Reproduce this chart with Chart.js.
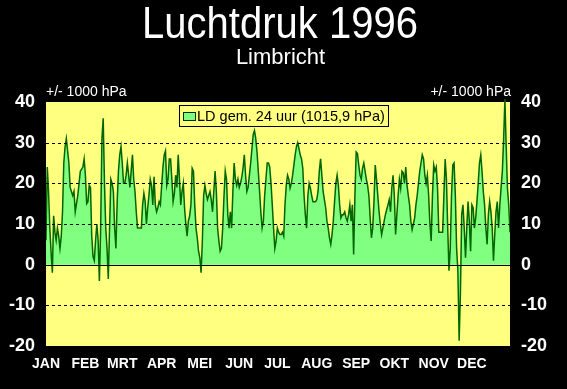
<!DOCTYPE html>
<html>
<head>
<meta charset="utf-8">
<script src="https://cdn.jsdelivr.net/npm/chart.js@4/dist/chart.umd.min.js"></script>
<style>
  html, body { margin: 0; padding: 0; background: #000; }
  #wrap { width: 567px; height: 389px; }
</style>
</head>
<body>
<div id="wrap"><canvas id="grafico" width="567" height="389"></canvas></div>
<script>
// luchtdruk per dag, afwijking van 1000 hPa
const jan = [6, 24, 18, 9, 3, -2, 12, 8, 6, 9, 7, 4, 7, 13, 25, 29, 31, 28, 25, 19, 18, 17, 18, 13, 15, 17, 20, 23, 23.5, 24, 26];
const feb = [22, 15, 15.5, 19.5, 19, 7, 2, 1, 6, 10, 6, -4, 9, 31, 36, 20, 9, 4, -3.5, 9, 21, 20, 18, 9, 4, 15.5, 23, 27, 29];
const mrt = [25, 20, 20, 22, 25, 22, 19, 23, 27, 21, 18, 13, 9, 9, 9, 9, 14.7, 17.5, 15.5, 10, 14, 17, 21, 19.5, 14.7, 21.6, 14.7, 13, 14, 15.5, 14.7];
const apr = [19.5, 24, 27, 28, 19.5, 21, 26, 26, 21, 15.5, 17.5, 22, 19, 27, 21, 14.7, 18, 20, 14, 10, 7, 10.7, 12, 14.7, 23.7, 23, 14.7, 9, 6.6, 3.3];
const mei = [1.7, -2, 5.8, 17, 19.5, 17.5, 16, 17, 18, 16, 13, 18, 23, 18, 9, 5.8, 3.3, 4, 9, 16.7, 23, 21, 12.3, 9, 13, 9, 18, 25, 21, 19.5, 21];
const jun = [19, 20, 21.5, 23.7, 27, 22, 18, 19, 22, 25, 28.5, 32, 33, 31, 27.7, 23, 18, 13, 9, 10.7, 17, 21, 25, 25, 24, 20, 14.7, 9, 4, 5.8];
const jul = [9, 8, 7.4, 7.4, 8, 7, 14.7, 19.5, 22, 21, 18.8, 20, 22, 24.5, 27, 29, 30, 28.5, 27, 26, 23.7, 17, 12.3, 9, 17, 20, 18.8, 17, 15.5, 15.5, 15.5];
const aug = [16, 18, 23, 26, 22, 18, 16, 14, 10.7, 9, 6.6, 5, 7.4, 10.7, 15.5, 20, 22, 19.5, 14.7, 11.5, 12.3, 12.3, 13, 11.5, 10.7, 12.3, 14.7, 10.7, 14.7, 2.5, 17];
const sep = [27.7, 27.3, 24.5, 22, 21, 23.7, 25, 23, 21, 19.5, 17, 11.5, 6.6, 9, 15.5, 24.5, 21, 17, 13, 10, 7.4, 9, 10.7, 12.3, 13.5, 14.7, 16, 13, 18.8, 22];
const okt = [17, 7.4, 12.3, 17, 21, 18.8, 23, 22.6, 20, 24, 19.5, 17, 14.7, 10.7, 8.6, 10, 11.5, 14.7, 17, 20, 23, 25, 27, 26, 22, 20, 22, 17, 10, 5.8, 17];
const nov = [24.5, 23, 24, 18.8, 8, 8, 8, 8, 17, 26, 21, 9, -1.5, 4, 17, 24.5, 25, 17, 4, -1.5, -18.7, -7, 12.3, 14.7, 9, 1.7, 9, 15.5, 10.7, 3.3];
const dec = [14.7, 14, 9, 11.5, 15.5, 20, 25, 27, 23, 18, 14.7, 9, 5, 12.3, 15.5, 13, 9, 1, 7.4, 13, 15.5, 9, 14.7, 19, 23, 31, 40.7, 29, 18.8, 14.7, 8];

const maanden = ['JAN', 'FEB', 'MRT', 'APR', 'MEI', 'JUN', 'JUL', 'AUG', 'SEP', 'OKT', 'NOV', 'DEC'];
const maandStart = [0, 31, 60, 91, 121, 152, 182, 213, 244, 274, 305, 335];
const rasterLijnen = [30, 20, 10, -10];

const titel = 'Luchtdruk 1996';
const subtitel = 'Limbricht';
const eenheid = '+/- 1000 hPa';
const legendaTekst = 'LD gem. 24 uur (1015,9 hPa)';

const waarden = [].concat(jan, feb, mrt, apr, mei, jun, jul, aug, sep, okt, nov, dec);
const punten = waarden.map((v, i) => ({ x: i, y: v }));

const FONT = 'Arial, "Liberation Sans", sans-serif';
const GEEL = '#ffff80';
const LICHTGROEN = '#80ff80';
const DONKERGROEN = '#006600';

// achtergrond, raster, titels en legenda zelf tekenen
const opmaak = {
  id: 'opmaak',
  beforeDraw(chart) {
    const { ctx, chartArea: a } = chart;
    ctx.save();
    ctx.fillStyle = '#000';
    ctx.fillRect(0, 0, chart.width, chart.height);
    ctx.fillStyle = GEEL;
    ctx.fillRect(a.left, a.top, a.right - a.left, a.bottom - a.top);
    ctx.restore();
  },
  afterDatasetsDraw(chart) {
    const { ctx, chartArea: a } = chart;
    const y = chart.scales.y;
    ctx.save();
    ctx.strokeStyle = '#000';
    ctx.lineWidth = 1;
    ctx.setLineDash([3, 3]);
    rasterLijnen.forEach(v => {
      const py = Math.round(y.getPixelForValue(v)) + 0.5;
      ctx.beginPath();
      ctx.moveTo(a.left, py);
      ctx.lineTo(a.right, py);
      ctx.stroke();
    });
    ctx.setLineDash([]);
    const p0 = Math.round(y.getPixelForValue(0)) + 0.5;
    ctx.beginPath();
    ctx.moveTo(a.left, p0);
    ctx.lineTo(a.right, p0);
    ctx.stroke();

    // legenda in het grafiekvlak
    ctx.fillStyle = GEEL;
    ctx.fillRect(180, 106, 209, 21);
    ctx.strokeRect(179.5, 105.5, 209, 21);
    ctx.fillStyle = LICHTGROEN;
    ctx.fillRect(183.5, 112.5, 12, 8);
    ctx.strokeStyle = '#003300';
    ctx.strokeRect(183.5, 112.5, 12, 8);
    ctx.fillStyle = '#000';
    ctx.font = '14.5px ' + FONT;
    ctx.textBaseline = 'alphabetic';
    ctx.textAlign = 'left';
    ctx.fillText(legendaTekst, 197, 121);
    ctx.restore();
  },
  afterDraw(chart) {
    const { ctx, chartArea: a } = chart;
    ctx.save();
    ctx.fillStyle = '#fff';
    ctx.textAlign = 'center';
    ctx.textBaseline = 'alphabetic';
    ctx.save();
    ctx.translate(280, 37.5);
    ctx.scale(1, 1.1);
    ctx.font = '40px ' + FONT;
    ctx.fillText(titel, 0, 0);
    ctx.restore();
    ctx.font = '22px ' + FONT;
    ctx.fillText(subtitel, 280.5, 64);
    ctx.font = '14px ' + FONT;
    ctx.textAlign = 'left';
    ctx.fillText(eenheid, a.left, 96);
    ctx.textAlign = 'right';
    ctx.fillText(eenheid, a.right + 1, 96);
    ctx.restore();
  }
};

const yAs = (pos, breedte) => ({
  type: 'linear',
  position: pos,
  min: -20,
  max: 40,
  grid: { display: false, drawTicks: false },
  border: { display: false },
  ticks: {
    stepSize: 10,
    color: '#fff',
    padding: 11,
    font: { family: FONT, size: 18, weight: 'bold' }
  },
  afterFit: s => { s.width = breedte; }
});

new Chart(document.getElementById('grafico'), {
  type: 'line',
  data: {
    datasets: [{
      label: legendaTekst,
      data: punten,
      yAxisID: 'y',
      borderColor: DONKERGROEN,
      backgroundColor: LICHTGROEN,
      borderWidth: 1.5,
      fill: 'origin',
      pointRadius: 0,
      tension: 0,
      clip: { left: 0, right: 0, top: 6, bottom: 0 }
    }]
  },
  options: {
    responsive: false,
    animation: false,
    devicePixelRatio: 1,
    layout: { padding: { top: 102, left: 0, right: 0, bottom: 0 } },
    plugins: {
      legend: { display: false },
      title: { display: false },
      tooltip: { enabled: false }
    },
    scales: {
      x: {
        type: 'linear',
        min: 0,
        max: waarden.length - 1,
        grid: { display: false, drawTicks: false },
        border: { display: false },
        afterBuildTicks: s => { s.ticks = maandStart.map(v => ({ value: v })); },
        ticks: {
          autoSkip: false,
          maxRotation: 0,
          color: '#fff',
          padding: 10,
          font: { family: FONT, size: 14, weight: 'bold' },
          callback: v => maanden[maandStart.indexOf(v)]
        },
        afterFit: s => { s.height = 43; }
      },
      y: yAs('left', 46),
      y2: yAs('right', 57)
    }
  },
  plugins: [opmaak]
});
</script>
</body>
</html>
